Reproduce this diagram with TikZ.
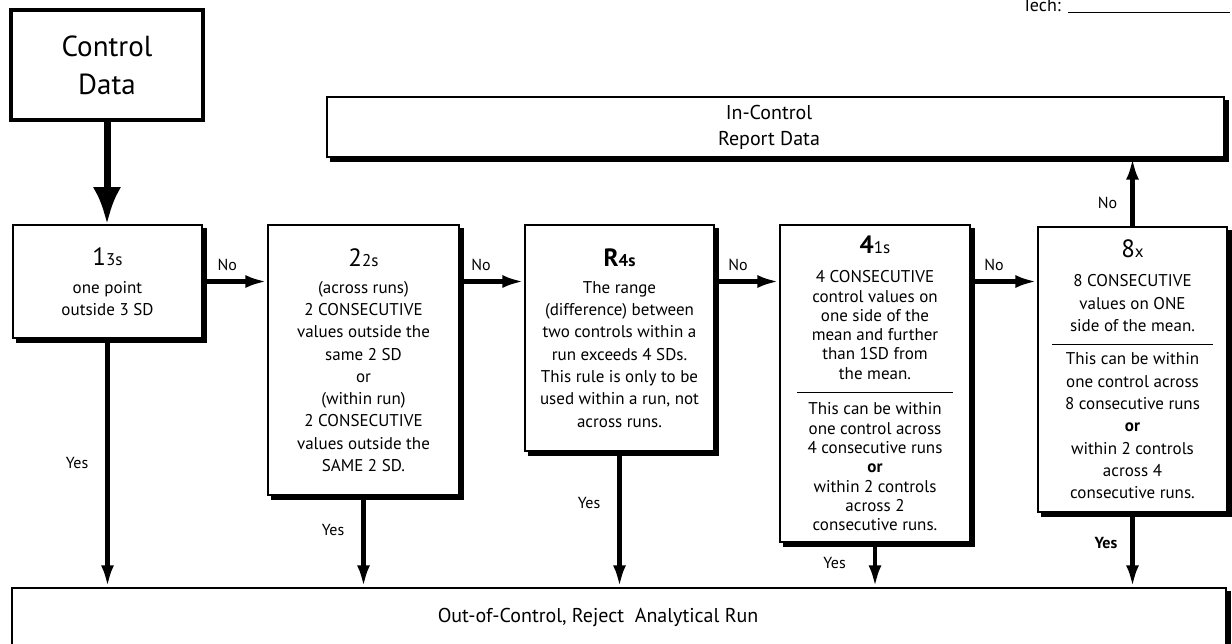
\documentclass[tikz,border=0pt]{standalone}
\usepackage{fontspec}
\setmainfont{PT Sans}
\usepackage{tikz}
\usetikzlibrary{arrows.meta}

\begin{document}
\begin{tikzpicture}[x=1pt,y=-1pt,
  box/.style={draw,line width=1.5pt,fill=white,align=center,inner sep=0pt,
    font=\fontsize{17}{22.3}\selectfont},
  boxshadow/.style={draw=black,line width=4.5pt},
  link/.style={line width=4.5pt,-{Latex[length=22pt,width=13pt]}},
  lab/.style={font=\fontsize{16}{18}\selectfont,inner sep=1pt}]
  \useasboundingbox (0,0) rectangle (1232,644);
  \node[draw,line width=4pt,minimum width=192pt,minimum height=110pt,align=center,
    font=\fontsize{29}{38}\selectfont] (data) at (107,65) {Control\\Data};
  \node[box,minimum width=897pt,minimum height=60pt,font=\fontsize{20}{26}\selectfont]
    (report) at (775.5,127) {In-Control\hspace*{13pt}\\Report Data\hspace*{13pt}};
  \node[box,minimum width=189pt,minimum height=113pt] (r13s) at (107.5,281.5)
    {{\fontsize{25}{25}\selectfont 1}3s\\[5.7pt]one point\\outside 3 SD};
  \node[box,minimum width=191pt,minimum height=270pt] (r22s) at (363.5,360)
    {{\fontsize{25}{25}\selectfont 2}2s\\[4.7pt](across runs)\\2 CONSECUTIVE\\values outside the\\same 2 SD\\or\\(within run)\\2 CONSECUTIVE\\values outside the\\SAME 2 SD.};
  \node[box,minimum width=189pt,minimum height=226pt] (r4s) at (619.5,338)
    {{\fontsize{25}{25}\selectfont\bfseries R}{\bfseries 4s}\\[4.7pt]The range\\(difference) between\\two controls within a\\run exceeds 4 SDs.\\This rule is only to be\\used within a run, not\\across runs.};
  \node[box,minimum width=190pt,minimum height=317pt,font=\fontsize{17}{19.3}\selectfont] (r41s) at (875,383.5)
    {{\fontsize{25}{25}\selectfont\bfseries 4}1s\\[9.7pt]4 CONSECUTIVE\\control values on\\one side of the\\mean and further\\than 1SD from\\the mean.\\[-6pt]\rule{156pt}{0.8pt}\\[3pt]This can be within\\one control across\\4 consecutive runs\\\textbf{or}\\within 2 controls\\across 2\\consecutive runs.};
  \node[box,minimum width=189pt,minimum height=285pt] (r8x) at (1132.5,369.5)
    {{\fontsize{25}{25}\selectfont 8}x\\[6.7pt]8 CONSECUTIVE\\values on ONE\\side of the mean.\\[-9pt]\rule{161pt}{0.8pt}\\[-2pt]This can be within\\one control across\\8 consecutive runs\\\textbf{or}\\within 2 controls\\across 4\\consecutive runs.};
  \node[box,minimum width=1214pt,minimum height=58pt,font=\fontsize{20}{24}\selectfont] (reject) at (619,617)
    {Out-of-Control, Reject~ Analytical Run\hspace*{42pt}};
  \node[font=\fontsize{18}{20}\selectfont,anchor=base east,inner sep=0pt] (tech) at (1061,12) {Tech:};
  \coordinate (techend) at (1230,12);
  \draw[line width=0.8pt] ([xshift=7pt]tech.base east) -- (techend);

  \foreach \bx in {report,r13s,r22s,r4s,r41s,r8x}
    \draw[boxshadow] ([xshift=2pt,yshift=-4pt]\bx.north east) -- ([xshift=2pt,yshift=-2pt]\bx.south east)
      -- ([xshift=4pt,yshift=-2pt]\bx.south west);
  \draw[boxshadow] ([xshift=2pt,yshift=-4pt]reject.north east) -- ([xshift=2pt,yshift=-2pt]reject.south east);

  \draw[line width=7pt,-{Latex[length=37pt,width=28pt]}] (data.south) -- (data.south |- r13s.north);
  \draw[link] (r13s.east) -- (r13s.east -| r22s.west) node[lab,pos=0.38,above=8pt] (n1) {No};
  \draw[link] (r13s.east -| r22s.east) -- (r13s.east -| r4s.west) node[lab,pos=0.33,above=8pt] (n2) {No};
  \draw[link] (r13s.east -| r4s.east) -- (r13s.east -| r41s.west) node[lab,pos=0.36,above=8pt] (n3) {No};
  \draw[link] (r13s.east -| r41s.east) -- (r13s.east -| r8x.west) node[lab,pos=0.35,above=8pt] (n4) {No};
  \draw[link] (r8x.north) -- (r8x.north |- report.south) node[lab,pos=0.34,left=12pt] (n5) {No};
  \draw[link] (r13s.south) -- (r13s.south |- reject.north) node[lab,pos=0.5,left=16pt] (y1) {Yes};
  \draw[link] (r22s.south) -- (r22s.south |- reject.north) node[lab,pos=0.37,left=16pt] (y2) {Yes};
  \draw[link] (r4s.south) -- (r4s.south |- reject.north) node[lab,pos=0.38,left=16pt] (y3) {Yes};
  \draw[link] (r41s.south) -- (r41s.south |- reject.north) node[lab,pos=0.46,left=26pt] (y4) {Yes};
  \draw[link] (r8x.south) -- (r8x.south |- reject.north) node[lab,pos=0.41,left=12pt,font=\fontsize{16}{18}\selectfont\bfseries] (y5) {Yes};
\end{tikzpicture}
\end{document}
